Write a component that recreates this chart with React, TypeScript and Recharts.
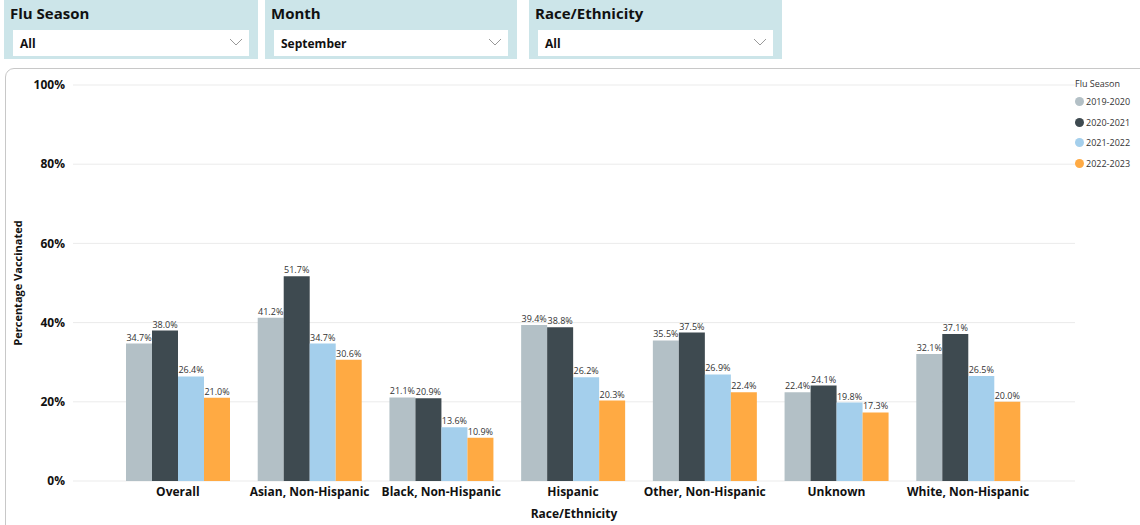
import { BarChart, Bar, XAxis, YAxis, CartesianGrid, LabelList } from "recharts";

const groups = ["Overall", "Asian, Non-Hispanic", "Black, Non-Hispanic", "Hispanic", "Other, Non-Hispanic", "Unknown", "White, Non-Hispanic"];
const seasons = ["2019-2020", "2020-2021", "2021-2022", "2022-2023"];
const s2019 = [34.7, 41.2, 21.1, 39.4, 35.5, 22.4, 32.1];
const s2020 = [38.0, 51.7, 20.9, 38.8, 37.5, 24.1, 37.1];
const s2021 = [26.4, 34.7, 13.6, 26.2, 26.9, 19.8, 26.5];
const s2022 = [21.0, 30.6, 10.9, 20.3, 22.4, 17.3, 20.0];
const yTicks = [0, 20, 40, 60, 80, 100];

const colors = ["#B3C0C6", "#3E4A50", "#A4CFEC", "#FFAA43"];
const font = "'Segoe UI', 'Open Sans', sans-serif";

const rows = groups.map((g, i) => ({
  name: g,
  "2019-2020": s2019[i],
  "2020-2021": s2020[i],
  "2021-2022": s2021[i],
  "2022-2023": s2022[i],
}));

function Slicer({ left, width, title, value }: { left: number; width: number; title: string; value: string }) {
  return (
    <div style={{ position: "absolute", left, top: 0, width, height: 59, background: "#CCE5E9" }}>
      <div style={{ position: "absolute", left: 6, top: 3, fontSize: 15, fontWeight: 700, color: "#111" }}>{title}</div>
      <div style={{ position: "absolute", left: 9, right: 9, top: 30, height: 26, background: "#fff" }}>
        <div style={{ position: "absolute", left: 7, top: 5, fontSize: 12, fontWeight: 700, color: "#111" }}>{value}</div>
        <svg style={{ position: "absolute", right: 6, top: 8 }} width={14} height={9}>
          <polyline points="1,1 7,7 13,1" fill="none" stroke="#999" strokeWidth={1} />
        </svg>
      </div>
    </div>
  );
}

function LegendBox() {
  return (
    <div style={{ position: "absolute", left: 1075, top: 77, fontFamily: font, fontSize: 9, color: "#333" }}>
      <div style={{ height: 14 }}>Flu Season</div>
      {seasons.map((s, i) => (
        <div key={s} style={{ display: "flex", alignItems: "center", height: 20.7 }}>
          <span style={{ width: 9, height: 9, borderRadius: 5, background: colors[i], marginRight: 2 }} />
          <span>{s}</span>
        </div>
      ))}
    </div>
  );
}

export default function App() {
  return (
    <div style={{ position: "absolute", left: 0, top: 0, width: 1140, height: 525, background: "#fff", fontFamily: font, overflow: "hidden" }}>
      <Slicer left={4} width={254} title="Flu Season" value="All" />
      <Slicer left={265} width={252} title="Month" value="September" />
      <Slicer left={529} width={253} title="Race/Ethnicity" value="All" />
      <div style={{ position: "absolute", left: 5, top: 68, width: 1145, height: 470, border: "1px solid #C8C8C8", borderRadius: 9 }} />
      <div style={{ position: "absolute", left: 0, top: 0 }}>
        <BarChart width={1140} height={525} data={rows} margin={{ top: 85, right: 65, left: 13, bottom: 4 }} barGap={0} barCategoryGap={14}>
          <CartesianGrid vertical={false} stroke="#EBEBEB" />
          <XAxis
            dataKey="name"
            height={40}
            padding={{ left: 39, right: 41 }}
            tickLine={false}
            axisLine={false}
            tickSize={0}
            tickMargin={6}
            interval={0}
            tick={{ fontSize: 12, fontWeight: 700, fill: "#111", fontFamily: font }}
            label={{ value: "Race/Ethnicity", position: "insideBottom", offset: 3, fontSize: 12, fontWeight: 700, fill: "#111", fontFamily: font }}
          />
          <YAxis
            width={60}
            domain={[0, 100]}
            ticks={yTicks}
            tickFormatter={(v: number) => `${v}%`}
            tickLine={false}
            axisLine={false}
            tickSize={0}
            tickMargin={8}
            tick={{ fontSize: 12, fontWeight: 700, fill: "#111", fontFamily: font }}
            label={{ value: "Percentage Vaccinated", angle: -90, position: "insideLeft", offset: 5, fontSize: 11, fontWeight: 700, fill: "#111", fontFamily: font, style: { textAnchor: "middle" } }}
          />
          {seasons.map((s, i) => (
            <Bar key={s} dataKey={s} fill={colors[i]} isAnimationActive={false}>
              <LabelList dataKey={s} position="top" offset={3} fill="#333" formatter={(v: any) => `${Number(v).toFixed(1)}%`} style={{ fontSize: 9, fill: "#333", fontFamily: font }} />
            </Bar>
          ))}
        </BarChart>
      </div>
      <LegendBox />
    </div>
  );
}
